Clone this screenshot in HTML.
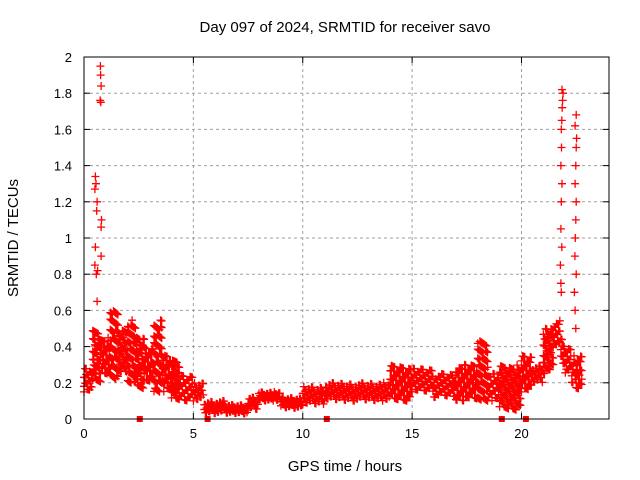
<!DOCTYPE html>
<html><head><meta charset="utf-8"><style>
body{margin:0;background:#fff}
svg{display:block;font-family:"Liberation Sans",sans-serif}
</style></head><body>
<svg id="c" width="640" height="480">
<text x="345" y="32" font-size="15" text-anchor="middle">Day 097 of 2024, SRMTID for receiver savo</text>
<text x="345" y="471" font-size="15" text-anchor="middle">GPS time / hours</text>
<text transform="translate(18,238) rotate(-90)" font-size="15" text-anchor="middle">SRMTID / TECUs</text>
<g id="grid"></g><g id="marks"></g>
<rect x="84" y="57" width="525" height="362" fill="none" stroke="#000" stroke-width="1"/>
</svg>
<script>
const xTicks=[0,5,10,15,20];
const yTicks=[0,0.2,0.4,0.6,0.8,1,1.2,1.4,1.6,1.8,2];
const yLabels=["0","0.2","0.4","0.6","0.8","1","1.2","1.4","1.6","1.8","2"];
const binStart=[0,0.4,0.8,1.2,1.6,2.0,2.4,2.8,3.2,3.6,4.0,4.4,5.0,5.5,6.5,7.5,8.0,8.5,9.0,10.0,11.0,12.0,14.0,15.0,16.0,17.0,18.0,18.5,19.0,20.0,20.5,21.0,21.5,21.8,22.0,22.3,22.5];
const binEnd=[0.4,0.8,1.2,1.6,2.0,2.4,2.8,3.2,3.6,4.0,4.4,5.0,5.5,6.5,7.5,8.0,8.5,9.0,10.0,11.0,12.0,14.0,15.0,16.0,17.0,18.0,18.5,19.0,20.0,20.5,21.0,21.5,21.8,22.0,22.3,22.5,22.8];
const binLo=[0.15,0.2,0.25,0.2,0.25,0.2,0.15,0.2,0.15,0.15,0.1,0.1,0.1,0.03,0.03,0.05,0.1,0.1,0.06,0.08,0.1,0.1,0.1,0.15,0.12,0.1,0.1,0.1,0.05,0.15,0.2,0.25,0.4,0.3,0.25,0.2,0.15];
const binHi=[0.28,0.5,0.45,0.6,0.5,0.55,0.45,0.4,0.55,0.35,0.33,0.25,0.2,0.1,0.08,0.12,0.15,0.15,0.12,0.18,0.2,0.2,0.3,0.28,0.25,0.3,0.45,0.25,0.3,0.35,0.3,0.5,0.55,0.45,0.4,0.35,0.35];
const spikeT=[0.75,0.76,0.78,0.74,0.77,0.52,0.55,0.5,0.6,0.58,0.8,0.78,0.52,0.5,0.56,0.62,0.6,0.78,21.85,21.9,21.88,21.86,21.84,21.82,21.83,21.8,21.85,21.82,21.8,21.84,21.78,21.8,21.82,22.5,22.45,22.52,22.5,22.48,22.45,22.5,22.48,22.46,22.44,22.5,22.42,22.45,22.48];
const spikeV=[1.95,1.9,1.84,1.76,1.75,1.34,1.3,1.27,1.2,1.15,1.1,1.06,0.95,0.85,0.8,0.82,0.65,0.9,1.82,1.8,1.76,1.72,1.65,1.6,1.5,1.4,1.3,1.2,1.05,0.95,0.85,0.75,0.7,1.68,1.62,1.55,1.5,1.4,1.3,1.2,1.1,1.0,0.9,0.8,0.7,0.6,0.5];
const flagT=[2.55,5.65,11.1,19.1,20.2];
const X0=84,X1=609,Y0=419,Y1=57,XMAX=24,YMAX=2;
function sx(t){return X0+(X1-X0)*t/XMAX;}
function sy(v){return Y0-(Y0-Y1)*v/YMAX;}
const NS='http://www.w3.org/2000/svg';
const grid=document.getElementById('grid'),marks=document.getElementById('marks');
function mk(tag,at,par){const e=document.createElementNS(NS,tag);for(const k in at)e.setAttribute(k,at[k]);par.appendChild(e);return e;}
xTicks.forEach(t=>{
 const x=sx(t);
 if(t>0){const l=mk('line',{x1:x,x2:x,y1:Y1,y2:Y0,stroke:'#a0a0a0','stroke-dasharray':'3,3'},grid);
 
 }
 mk('line',{x1:x,x2:x,y1:Y0,y2:Y0-6,stroke:'#000'},grid);
 mk('line',{x1:x,x2:x,y1:Y1,y2:Y1+6,stroke:'#000'},grid);
 const tx=mk('text',{x:x,y:Y0+19,'font-size':13,'text-anchor':'middle'},grid);tx.textContent=t;
 
 
});
yTicks.forEach((v,i)=>{
 const y=sy(v);
 if(v>0&&v<2){const l=mk('line',{x1:X0,x2:X1,y1:y,y2:y,stroke:'#a0a0a0','stroke-dasharray':'3,3'},grid);
 
 }
 mk('line',{x1:X0,x2:X0+6,y1:y,y2:y,stroke:'#000'},grid);
 mk('line',{x1:X1,x2:X1-6,y1:y,y2:y,stroke:'#000'},grid);
 const tx=mk('text',{x:X0-12,y:y+5,'font-size':13,'text-anchor':'end'},grid);tx.textContent=yLabels[i];
 
 
});
let d='';
function plus(t,v){const x=sx(t),y=sy(v);d+=`M${(x-4).toFixed(1)} ${y.toFixed(1)}h8M${x.toFixed(1)} ${(y-4).toFixed(1)}v8`;}
let col=0;
binStart.forEach((s,i)=>{
 const lo=binLo[i],hi=binHi[i];
 const per=Math.max(2,Math.round((hi-lo)/0.05));
 for(let t=s;t<binEnd[i]-1e-9;t+=0.05){
  for(let k=0;k<per;k++){
   const f=((k*0.618+col*0.37)%1);
   plus(t,lo+f*(hi-lo));
  }
  col++;
 }
});
spikeT.forEach((t,i)=>plus(t,spikeV[i]));
const p=mk('path',{d:d,stroke:'#f00','stroke-width':1.3,fill:'none'},marks);


flagT.forEach(t=>{
 const r=mk('rect',{x:sx(t)-3,y:Y0-3,width:6,height:6,fill:'#f00'},marks);
 
 
});
</script>
</body></html>
